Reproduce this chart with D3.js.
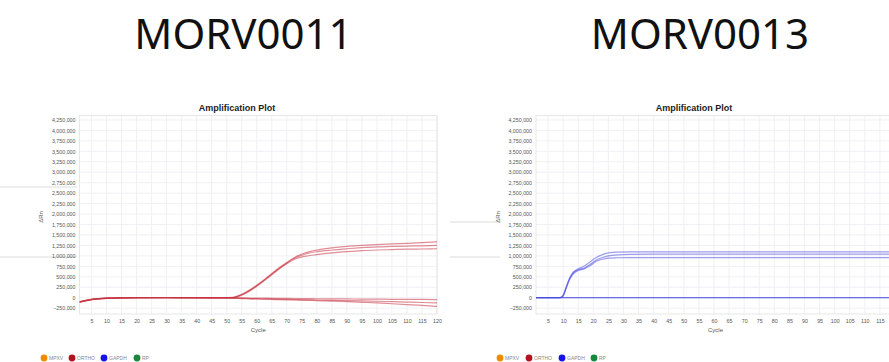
<!DOCTYPE html>
<html>
<head>
<meta charset="utf-8">
<script src="https://cdn.jsdelivr.net/npm/d3@7"></script>
<style>
  html, body { margin: 0; padding: 0; background: #fff; }
  svg { display: block; }
</style>
</head>
<body>
<div id="chart"></div>
<script>
// ---- data ----
const xTickValues = [5, 10, 15, 20, 25, 30, 35, 40, 45, 50, 55, 60, 65, 70, 75, 80, 85, 90, 95, 100, 105, 110, 115, 120];
const yTickValues = [-250000, 0, 250000, 500000, 750000, 1000000, 1250000, 1500000, 1750000, 2000000,
  2250000, 2500000, 2750000, 3000000, 3250000, 3500000, 3750000, 4000000, 4250000];

const legendNames = ['MPXV', 'ORTHO', 'GAPDH', 'RP'];
const legendColors = ['#f08a00', '#b3121f', '#1414e6', '#138a3c'];

// MORV0011 (red traces)
const leftCycles = [1, 5, 10, 20, 30, 40, 48, 52, 55, 58, 61, 64, 67, 70, 73, 76, 80, 85, 90, 95, 100, 105, 110, 115, 120];
const leftAmp1 = [-100000, -45000, -15000, 0, 5000, 0, 0, 10000, 80000, 200000, 350000, 520000, 690000, 840000, 980000, 1070000, 1140000, 1190000, 1225000, 1250000, 1270000, 1285000, 1300000, 1315000, 1335000];
const leftAmp2 = [-95000, -40000, -10000, 0, 0, 0, 0, 5000, 70000, 190000, 340000, 505000, 675000, 830000, 960000, 1040000, 1100000, 1140000, 1170000, 1195000, 1215000, 1225000, 1235000, 1240000, 1250000];
const leftAmp3 = [-105000, -45000, -15000, 0, 0, -5000, 0, 0, 60000, 175000, 325000, 490000, 660000, 810000, 930000, 990000, 1030000, 1070000, 1100000, 1125000, 1140000, 1150000, 1160000, 1165000, 1170000];
const leftNeg1 = [-100000, -40000, -12000, 0, 0, 0, 0, 0, -5000, -8000, -10000, -12000, -15000, -18000, -20000, -22000, -25000, -28000, -30000, -32000, -35000, -38000, -40000, -42000, -45000];
const leftNeg2 = [-110000, -45000, -15000, -5000, 0, 0, -5000, -10000, -15000, -20000, -25000, -30000, -35000, -40000, -45000, -50000, -55000, -62000, -70000, -78000, -85000, -95000, -105000, -115000, -125000];
const leftNeg3 = [-105000, -42000, -12000, 0, 0, -3000, -8000, -15000, -22000, -28000, -35000, -40000, -45000, -50000, -55000, -60000, -70000, -80000, -95000, -110000, -125000, -145000, -165000, -185000, -210000];

// MORV0013 (blue traces)
const rightCycles = [1, 5, 9, 10, 11, 12, 13, 14, 15, 17, 19, 21, 23, 25, 28, 32, 40, 60, 80, 100, 120];
const rightAmp1 = [0, 0, 0, 60000, 260000, 450000, 580000, 650000, 690000, 760000, 860000, 960000, 1030000, 1070000, 1090000, 1095000, 1095000, 1095000, 1095000, 1095000, 1095000];
const rightAmp2 = [0, 0, 0, 50000, 240000, 430000, 560000, 630000, 670000, 710000, 800000, 900000, 960000, 1000000, 1025000, 1035000, 1040000, 1040000, 1040000, 1040000, 1040000];
const rightAmp3 = [0, 0, 0, 40000, 220000, 410000, 540000, 610000, 650000, 690000, 770000, 870000, 920000, 945000, 955000, 960000, 960000, 960000, 960000, 960000, 960000];
const rightNeg1 = [0, 0, 0, 0, 0, 0, 0, 0, 0, 0, 0, 0, 0, 0, 0, 0, 0, 0, 0, 0, 0];
const rightNeg2 = [3000, 3000, 2000, 2000, 2000, 2000, 2000, 2000, 2000, 2000, 2000, 2000, 2000, 2000, 2000, 2000, 2000, 2000, 2000, 2000, 2000];

const width = 889;
const height = 362;

const svg = d3.select('#chart').append('svg')
  .attr('width', width)
  .attr('height', height);

// faint slide lines left of the plots
const slideLines = [[0, 77, 187], [0, 77, 257], [450, 500, 222], [450, 500, 257]];
svg.selectAll('line.slide')
  .data(slideLines)
  .enter().append('line')
  .attr('class', 'slide')
  .attr('x1', d => d[0]).attr('x2', d => d[1])
  .attr('y1', d => d[2]).attr('y2', d => d[2])
  .attr('stroke', '#dcdcdc')
  .attr('stroke-width', 1);

function drawPlot(cfg) {
  const x = d3.scaleLinear().domain([1, 120]).range([cfg.left, cfg.right]);
  const y = d3.scaleLinear().domain([-390000, 4357000]).range([314, 115.5]);

  const g = svg.append('g');

  // heading
  svg.append('text')
    .attr('x', cfg.headX)
    .attr('y', 49)
    .attr('text-anchor', 'middle')
    .attr('font-family', '"Noto Sans", sans-serif')
    .attr('font-size', 42)
    .attr('fill', '#111')
    .text(cfg.heading);

  // plot title
  g.append('text')
    .attr('x', cfg.titleX)
    .attr('y', 110.5)
    .attr('text-anchor', 'middle')
    .attr('font-family', '"Liberation Sans", Arial, sans-serif')
    .attr('font-weight', 'bold')
    .attr('font-size', 9)
    .attr('fill', '#222')
    .text('Amplification Plot');

  // grid
  g.append('g')
    .selectAll('line')
    .data(xTickValues)
    .enter().append('line')
    .attr('x1', d => x(d)).attr('x2', d => x(d))
    .attr('y1', y.range()[1]).attr('y2', y.range()[0])
    .attr('stroke', '#ececf2')
    .attr('stroke-width', 0.8);

  g.append('g')
    .selectAll('line')
    .data(yTickValues)
    .enter().append('line')
    .attr('x1', cfg.left).attr('x2', cfg.right)
    .attr('y1', d => y(d)).attr('y2', d => y(d))
    .attr('stroke', '#ececf2')
    .attr('stroke-width', 0.8);

  g.append('rect')
    .attr('x', cfg.left).attr('y', y.range()[1])
    .attr('width', cfg.right - cfg.left)
    .attr('height', y.range()[0] - y.range()[1])
    .attr('fill', 'none')
    .attr('stroke', '#e2e2e2')
    .attr('stroke-width', 0.8);

  // axes
  const yAxis = g.append('g')
    .attr('transform', `translate(${cfg.left},0)`)
    .call(d3.axisLeft(y).tickValues(yTickValues).tickSize(0).tickPadding(4)
      .tickFormat(d3.format(',')));
  yAxis.select('.domain').remove();
  yAxis.selectAll('text')
    .attr('font-family', '"Liberation Sans", Arial, sans-serif')
    .attr('font-size', 5.3)
    .attr('fill', '#555');

  // only labels that fit inside the picture
  const shownX = xTickValues.filter(d => x(d) <= width - 6);
  const xAxis = g.append('g')
    .attr('transform', `translate(0,${y.range()[0]})`)
    .call(d3.axisBottom(x).tickValues(shownX).tickSize(0).tickPadding(5));
  xAxis.select('.domain').remove();
  xAxis.selectAll('text')
    .attr('font-family', '"Liberation Sans", Arial, sans-serif')
    .attr('font-size', 5.3)
    .attr('fill', '#555');

  g.append('text')
    .attr('x', (cfg.left + cfg.right) / 2)
    .attr('y', 332)
    .attr('text-anchor', 'middle')
    .attr('font-family', '"Liberation Sans", Arial, sans-serif')
    .attr('font-size', 6)
    .attr('fill', '#555')
    .text('Cycle');

  g.append('text')
    .attr('transform', `translate(${cfg.yLabelX},217) rotate(-90)`)
    .attr('text-anchor', 'middle')
    .attr('font-family', '"Liberation Sans", Arial, sans-serif')
    .attr('font-size', 6)
    .attr('fill', '#555')
    .text('ΔRn');

  // traces
  const line = d3.line()
    .x(d => x(d[0]))
    .y(d => y(d[1]))
    .curve(d3.curveMonotoneX);

  const clipId = 'clip-' + cfg.heading;
  g.append('clipPath').attr('id', clipId)
    .append('rect')
    .attr('x', cfg.left).attr('y', y.range()[1])
    .attr('width', cfg.right - cfg.left)
    .attr('height', y.range()[0] - y.range()[1]);

  g.append('g')
    .attr('clip-path', `url(#${clipId})`)
    .selectAll('path')
    .data(cfg.series.map(s => cfg.cycles.map((c, i) => [c, s[i]])))
    .enter().append('path')
    .attr('d', line)
    .attr('fill', 'none')
    .attr('stroke', cfg.color)
    .attr('stroke-opacity', 0.55)
    .attr('stroke-width', 1.2);

  // legend
  const legend = g.append('g')
    .selectAll('g')
    .data(legendNames)
    .enter().append('g')
    .attr('transform', (d, i) => `translate(${cfg.legendX[i]},358)`);
  legend.append('circle')
    .attr('r', 3.4)
    .attr('fill', (d, i) => legendColors[i]);
  legend.append('text')
    .attr('x', 5)
    .attr('y', 1.8)
    .attr('font-family', '"Liberation Sans", Arial, sans-serif')
    .attr('font-size', 5)
    .attr('fill', '#888')
    .text(d => d);
}

drawPlot({
  heading: 'MORV0011',
  headX: 243.5,
  titleX: 237,
  left: 79.5,
  right: 437,
  yLabelX: 43,
  cycles: leftCycles,
  series: [leftNeg1, leftNeg2, leftNeg3, leftAmp1, leftAmp2, leftAmp3],
  color: '#c8323f',
  legendX: [44, 72, 104, 137]
});

drawPlot({
  heading: 'MORV0013',
  headX: 700,
  titleX: 694,
  left: 536,
  right: 895,
  yLabelX: 500,
  cycles: rightCycles,
  series: [rightNeg1, rightNeg2, rightAmp1, rightAmp2, rightAmp3],
  color: '#4a4ae0',
  legendX: [500, 529, 562, 594]
});
</script>
</body>
</html>
